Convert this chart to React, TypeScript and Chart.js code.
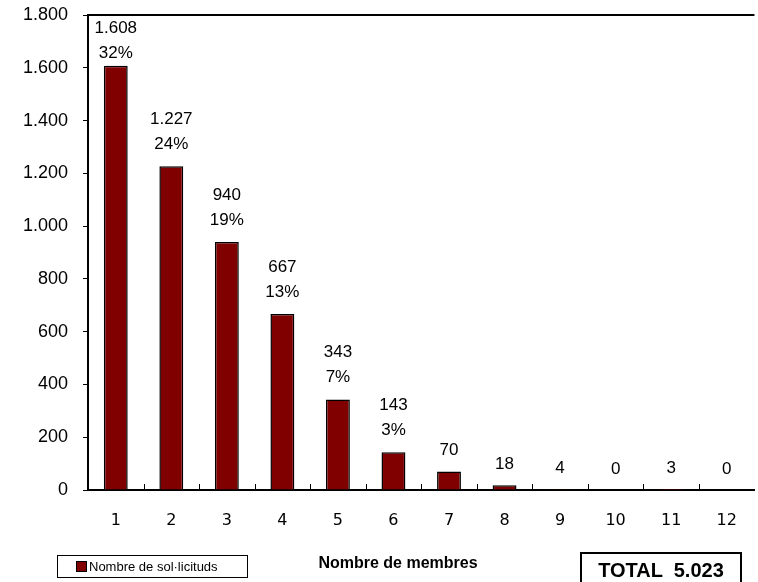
import React, { useEffect, useRef } from "react";
import { Chart, registerables } from "chart.js";

Chart.register(...registerables);

const categories = ["1", "2", "3", "4", "5", "6", "7", "8", "9", "10", "11", "12"];
const requests = [1608, 1227, 940, 667, 343, 143, 70, 18, 4, 0, 3, 0];
const percentLabels = ["32%", "24%", "19%", "13%", "7%", "3%", "", "", "", "", "", ""];
const yMin = 0;
const yMax = 1800;
const yStep = 200;
const seriesName = "Nombre de sol·licituds";
const axisTitle = "Nombre de membres";
const totalText = "TOTAL  5.023";

const BAR_COLOR = "#800000";
const fmt = (n: number) => String(n).replace(/\B(?=(\d{3})+(?!\d))/g, ".");

const decorPlugin = {
  id: "decor",
  afterDatasetsDraw(chart: any) {
    const { ctx, chartArea } = chart;
    const xs = chart.scales.x;
    ctx.save();
    // top frame line
    ctx.strokeStyle = "#000";
    ctx.lineWidth = 2;
    ctx.beginPath();
    ctx.moveTo(chartArea.left - 1, chartArea.top);
    ctx.lineTo(chartArea.right, chartArea.top);
    ctx.stroke();
    // inward category tick marks
    ctx.lineWidth = 1;
    const n = categories.length;
    const half = n > 1 ? (xs.getPixelForTick(1) - xs.getPixelForTick(0)) / 2 : 0;
    for (let i = 0; i < n; i++) {
      const x = Math.round(xs.getPixelForTick(i) + half) + 0.5;
      if (x >= chartArea.right - 1) continue;
      ctx.beginPath();
      ctx.moveTo(x, chartArea.bottom);
      ctx.lineTo(x, chartArea.bottom - 6);
      ctx.stroke();
    }
    // data labels
    const meta = chart.getDatasetMeta(0);
    ctx.fillStyle = "#000";
    ctx.font = '17px "Liberation Sans", Arial, sans-serif';
    ctx.textAlign = "center";
    ctx.textBaseline = "middle";
    meta.data.forEach((el: any, i: number) => {
      const top = el.y;
      const pct = percentLabels[i];
      if (pct) {
        const vy = Math.max(top - 47, chartArea.top + 13);
        const py = Math.max(top - 22, vy + 25);
        ctx.fillText(fmt(requests[i]), el.x, vy);
        ctx.fillText(pct, el.x, py);
      } else {
        ctx.fillText(fmt(requests[i]), el.x, top - 21);
      }
    });
    ctx.restore();
  },
};

export default function App() {
  const ref = useRef<HTMLCanvasElement | null>(null);
  useEffect(() => {
    if (!ref.current) return;
    const chart = new Chart(ref.current, {
      type: "bar",
      data: {
        labels: categories,
        datasets: [
          {
            label: seriesName,
            data: requests,
            backgroundColor: BAR_COLOR,
            borderColor: "#000",
            borderWidth: (c: any) => (c.raw > 3 ? 1.5 : 0),
            borderSkipped: "start",
            barPercentage: 0.43,
            categoryPercentage: 1,
          },
        ],
      },
      options: {
        animation: false,
        responsive: false,
        maintainAspectRatio: false,
        layout: { padding: { top: 15, right: 3, left: 0, bottom: 0 } },
        plugins: { legend: { display: false }, tooltip: { enabled: false } },
        scales: {
          x: {
            offset: true,
            grid: { display: false, drawTicks: false },
            border: { display: true, color: "#000", width: 2 },
            ticks: {
              color: "#000",
              padding: 21,
              font: { family: '"DejaVu Sans", Verdana, sans-serif', size: 16 },
            },
            afterFit: (s: any) => {
              s.height = 92;
            },
          },
          y: {
            min: yMin,
            max: yMax,
            grid: { drawOnChartArea: false, drawTicks: true, tickLength: 5, color: "#000", lineWidth: 1 },
            border: { display: true, color: "#000", width: 2 },
            ticks: {
              stepSize: yStep,
              color: "#000",
              padding: 15,
              font: { family: '"Liberation Sans", Arial, sans-serif', size: 18 },
              callback: (v: any) => fmt(Number(v)),
            },
            afterFit: (s: any) => {
              s.width = 88;
              s.paddingTop = 0;
              s.paddingBottom = 0;
            },
          },
        },
      },
      plugins: [decorPlugin],
    } as any);
    return () => chart.destroy();
  }, []);

  return (
    <div style={{ position: "fixed", left: 0, top: 0, width: 758, height: 582, background: "#fff", fontFamily: '"Liberation Sans", Arial, sans-serif' }}>
      <canvas ref={ref} width={758} height={582} style={{ position: "absolute", left: 0, top: 0, width: 758, height: 582 }} />
      <div
        style={{
          position: "absolute",
          left: 57,
          top: 555,
          width: 191,
          height: 23,
          boxSizing: "border-box",
          border: "1px solid #000",
          display: "flex",
          alignItems: "center",
          fontSize: 13,
          color: "#000",
          whiteSpace: "nowrap",
        }}
      >
        <span style={{ display: "inline-block", width: 9, height: 9, background: BAR_COLOR, border: "1px solid #000", marginLeft: 18, marginRight: 2 }} />
        <span>{seriesName}</span>
      </div>
      <div
        style={{
          position: "absolute",
          left: 298,
          top: 554,
          width: 200,
          textAlign: "center",
          fontSize: 16,
          fontWeight: "bold",
          color: "#000",
          whiteSpace: "nowrap",
        }}
      >
        {axisTitle}
      </div>
      <div
        style={{
          position: "absolute",
          left: 580,
          top: 552,
          width: 162,
          height: 34,
          boxSizing: "border-box",
          border: "2px solid #000",
          borderBottom: "none",
          fontSize: 20,
          fontWeight: "bold",
          color: "#000",
          textAlign: "center",
          paddingTop: 5,
          whiteSpace: "pre",
        }}
      >
        {totalText}
      </div>
    </div>
  );
}
